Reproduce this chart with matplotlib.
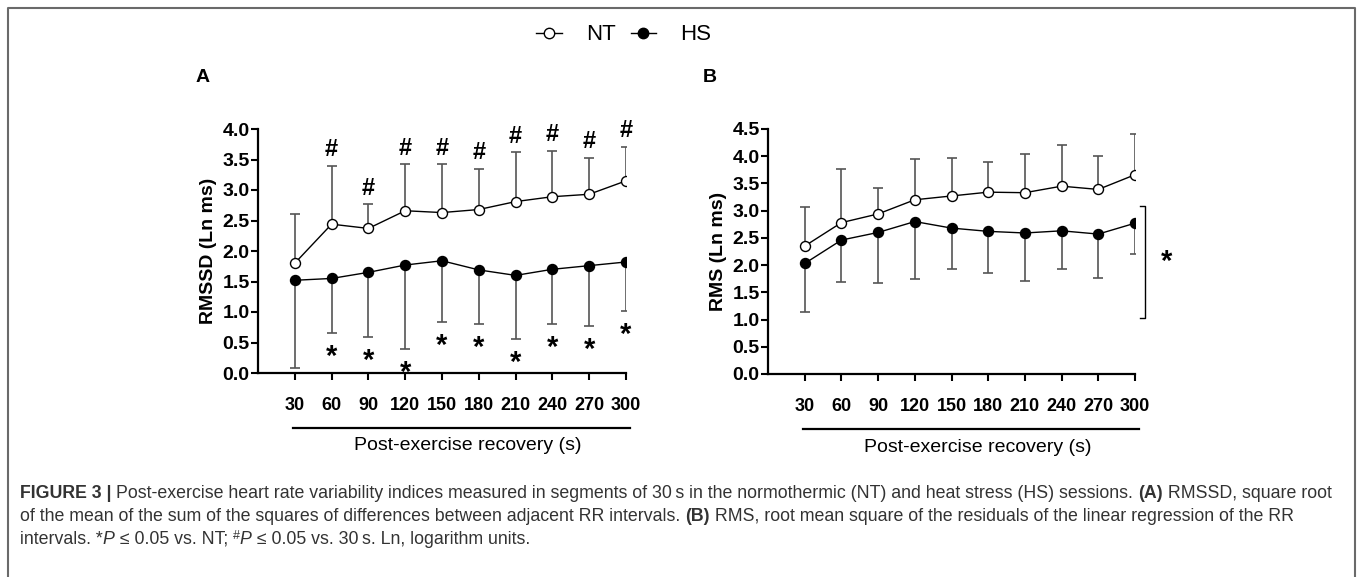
import matplotlib
matplotlib.use('Agg')
import matplotlib.pyplot as plt
from matplotlib.lines import Line2D
import numpy as np

plt.rcParams['font.family'] = ['Liberation Sans', 'DejaVu Sans']

# recovery segments (s)
time_s = [30, 60, 90, 120, 150, 180, 210, 240, 270, 300]

# panel A - RMSSD (Ln ms)
rmssd_nt = [1.80, 2.44, 2.37, 2.66, 2.63, 2.68, 2.81, 2.89, 2.93, 3.15]
rmssd_nt_sd = [0.80, 0.96, 0.40, 0.76, 0.79, 0.67, 0.81, 0.75, 0.60, 0.56]
rmssd_hs = [1.52, 1.55, 1.65, 1.77, 1.84, 1.69, 1.60, 1.70, 1.76, 1.82]
rmssd_hs_sd = [1.44, 0.89, 1.06, 1.38, 1.01, 0.88, 1.04, 0.90, 0.99, 0.80]
rmssd_hash = [0, 1, 1, 1, 1, 1, 1, 1, 1, 1]   # P <= 0.05 vs 30 s
rmssd_star = [0, 1, 1, 1, 1, 1, 1, 1, 1, 1]   # P <= 0.05 vs NT

# panel B - RMS (Ln ms)
rms_nt = [2.35, 2.78, 2.94, 3.20, 3.27, 3.34, 3.33, 3.45, 3.39, 3.66]
rms_nt_sd = [0.72, 0.99, 0.47, 0.75, 0.70, 0.56, 0.72, 0.75, 0.61, 0.74]
rms_hs = [2.03, 2.46, 2.60, 2.80, 2.68, 2.62, 2.59, 2.63, 2.57, 2.77]
rms_hs_sd = [0.90, 0.77, 0.93, 1.06, 0.76, 0.76, 0.88, 0.70, 0.80, 0.57]
rms_bracket = [1.02, 3.08]   # main effect of session

W, H = 1358, 577
fig = plt.figure(figsize=(W / 100, H / 100), dpi=100)

ERR = '#555555'


def px(x, y):
    """pixel position (from top left) to figure fraction"""
    return x / W, 1 - y / H


def draw_panel(ax, nt, nt_sd, hs, hs_sd, ymax, ylabel):
    n = len(time_s)
    ax.errorbar(time_s, nt, yerr=[np.zeros(n), nt_sd], fmt='none', ecolor=ERR,
                elinewidth=1.2, capsize=3.6, capthick=1.2, zorder=2)
    ax.errorbar(time_s, hs, yerr=[hs_sd, np.zeros(n)], fmt='none', ecolor=ERR,
                elinewidth=1.2, capsize=3.6, capthick=1.2, zorder=2)
    ax.plot(time_s, nt, '-o', color='black', lw=1, mfc='white', mec='black',
            ms=7.2, mew=1, zorder=3)
    ax.plot(time_s, hs, '-o', color='black', lw=1, mfc='black', mec='black',
            ms=7.2, mew=1, zorder=3)
    ax.set_xlim(0, 300)
    ax.set_ylim(0, ymax)
    ax.set_xticks(time_s)
    ax.set_yticks(np.arange(0, ymax + 0.01, 0.5))
    ax.yaxis.set_major_formatter(plt.FormatStrFormatter('%.1f'))
    for s in ['top', 'right']:
        ax.spines[s].set_visible(False)
    for s in ['left', 'bottom']:
        ax.spines[s].set_linewidth(1.6)
    ax.tick_params(axis='both', direction='out', length=5, width=1.5)
    ax.tick_params(axis='x', pad=12, labelsize=13)
    ax.tick_params(axis='y', pad=1, labelsize=14)
    for lab in ax.get_xticklabels() + ax.get_yticklabels():
        lab.set_fontweight('bold')
    ax.set_ylabel(ylabel, fontsize=14, fontweight='bold', labelpad=4)
    # line under the tick labels and the x title
    ax.plot([0.095, 1.012], [-0.225, -0.225], transform=ax.transAxes,
            color='black', lw=1.6, clip_on=False)
    ax.text(0.571, -0.299, 'Post-exercise recovery (s)', transform=ax.transAxes,
            ha='center', va='center', fontsize=14)


axA = fig.add_axes([258 / W, 1 - 373 / H, 368 / W, 244 / H])
draw_panel(axA, rmssd_nt, rmssd_nt_sd, rmssd_hs, rmssd_hs_sd, 4.0, 'RMSSD (Ln ms)')
axB = fig.add_axes([768 / W, 1 - 374 / H, 367 / W, 245 / H])
draw_panel(axB, rms_nt, rms_nt_sd, rms_hs, rms_hs_sd, 4.5, 'RMS (Ln ms)')

# significance marks in panel A
for t, m, sd, flag in zip(time_s, rmssd_nt, rmssd_nt_sd, rmssd_hash):
    if flag:
        axA.annotate('#', xy=(t, m + sd), xytext=(0, 16), textcoords='offset pixels',
                     ha='center', va='center', fontsize=17, fontweight='bold')
for t, m, sd, flag in zip(time_s, rmssd_hs, rmssd_hs_sd, rmssd_star):
    if flag:
        axA.annotate('*', xy=(t, m - sd), xytext=(0, -24), textcoords='offset pixels',
                     ha='center', va='center', fontsize=21, fontweight='bold')

# bracket with asterisk in panel B
bx = 308
axB.plot([bx - 4, bx, bx, bx - 4], [rms_bracket[0], rms_bracket[0], rms_bracket[1], rms_bracket[1]],
         color='black', lw=1, clip_on=False)
axB.text(bx + 18, np.mean(rms_bracket), '*', ha='center', va='center',
         fontsize=21, fontweight='bold')

# panel letters
fig.text(*px(196, 77), 'A', fontsize=14, fontweight='bold', ha='left', va='center')
fig.text(*px(703, 77), 'B', fontsize=14, fontweight='bold', ha='left', va='center')

# legend
handles = [Line2D([], [], color='black', lw=1, marker='o', ms=7.5, mfc='white', mec='black'),
           Line2D([], [], color='black', lw=1, marker='o', ms=7.5, mfc='black', mec='black')]
fig.legend(handles, ['NT', 'HS'], loc='center', bbox_to_anchor=px(624, 35), ncol=2,
           frameon=False, fontsize=16, handlelength=1.15, handletextpad=1.1,
           columnspacing=0.65)

# frame around the figure
fig.add_artist(Line2D([8 / W, 8 / W, 1355 / W, 1355 / W], [0, 1 - 8 / H, 1 - 8 / H, 0],
                      transform=fig.transFigure, color='#6a6a6a', lw=1.5))

# caption, drawn piece by piece so bold / italic runs line up
renderer = fig.canvas.get_renderer()
CAP = '#333333'
cap_fs = 12.75


def draw_runs(x, y, runs):
    for s, kw in runs:
        kw = dict(kw)
        fs = kw.pop('fs', cap_fs)
        rise = kw.pop('rise', 0)
        t = fig.text(x, y + rise / H, s, fontsize=fs, color=CAP,
                     ha='left', va='baseline', **kw)
        bb = t.get_window_extent(renderer)
        x += bb.width / W


caption = [
    [('FIGURE 3 | ', dict(fontweight='bold')),
     ('Post-exercise heart rate variability indices measured in segments of 30\u2009s in the '
      'normothermic (NT) and heat stress (HS) sessions. ', {}),
     ('(A)', dict(fontweight='bold')),
     (' RMSSD, square root', {})],
    [('of the mean of the sum of the squares of differences between adjacent RR intervals. ', {}),
     ('(B)', dict(fontweight='bold')),
     (' RMS, root mean square of the residuals of the linear regression of the RR', {})],
    [('intervals. *', {}), ('P', dict(style='italic')), (' \u2264 0.05 vs. NT; ', {}),
     ('#', dict(fs=9, rise=5)), ('P', dict(style='italic')),
     (' \u2264 0.05 vs. 30\u2009s. Ln, logarithm units.', {})],
]
for i, line in enumerate(caption):
    y0 = 498 + i * 23
    draw_runs(20 / W, 1 - y0 / H, line)

fig.savefig('out.png', dpi=100)
